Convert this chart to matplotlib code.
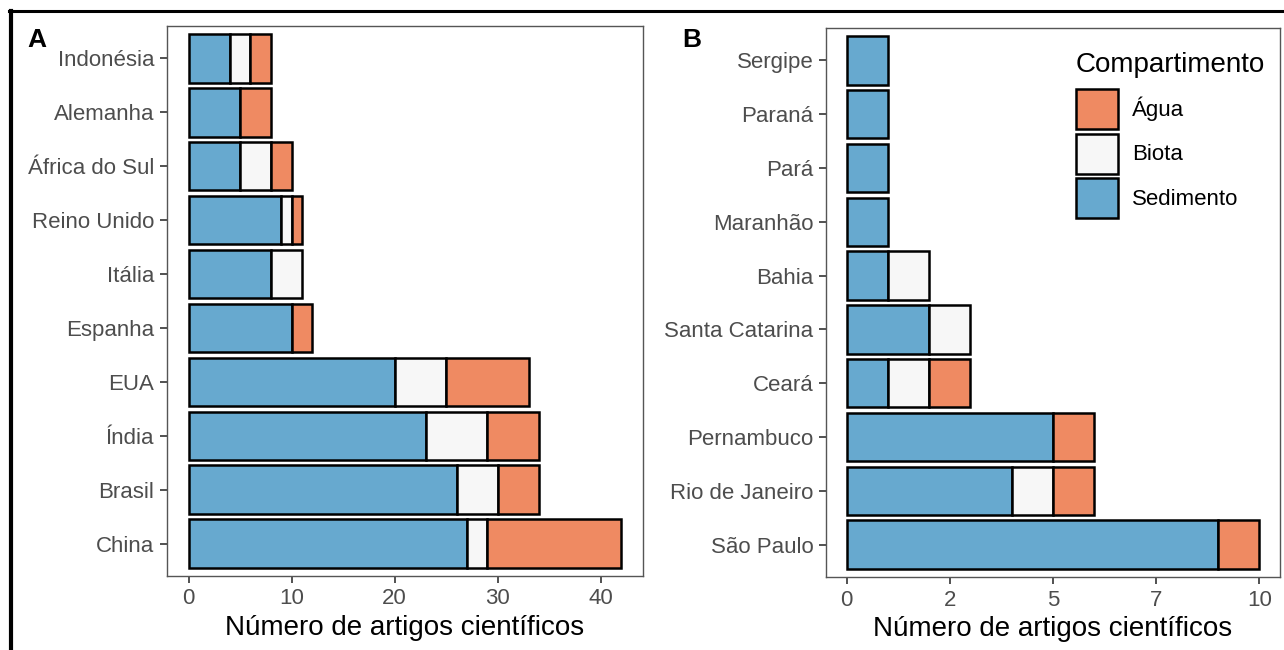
import matplotlib
matplotlib.use('Agg')
import matplotlib.pyplot as plt
from matplotlib.patches import Patch
from matplotlib.lines import Line2D

plt.rcParams['font.family'] = ['Liberation Sans', 'DejaVu Sans']

# painel A - paises
paises = ['Indonésia', 'Alemanha', 'África do Sul', 'Reino Unido', 'Itália',
          'Espanha', 'EUA', 'Índia', 'Brasil', 'China']
sed_a = [4, 5, 5, 9, 8, 10, 20, 23, 26, 27]
bio_a = [2, 0, 3, 1, 3, 0, 5, 6, 4, 2]
agua_a = [2, 3, 2, 1, 0, 2, 8, 5, 4, 13]

# painel B - estados
estados = ['Sergipe', 'Paraná', 'Pará', 'Maranhão', 'Bahia', 'Santa Catarina',
           'Ceará', 'Pernambuco', 'Rio de Janeiro', 'São Paulo']
sed_b = [1, 1, 1, 1, 1, 2, 1, 5, 4, 9]
bio_b = [0, 0, 0, 0, 1, 1, 1, 0, 1, 0]
agua_b = [0, 0, 0, 0, 0, 0, 1, 1, 1, 1]

xticks_b = [0, 2.5, 5, 7.5, 10]
xticklabels_b = ['0', '2', '5', '7', '10']

c_sed = '#67A9CF'
c_bio = '#F7F7F7'
c_agua = '#EF8A62'
tick_col = '#4D4D4D'

W, H = 1284, 650
fig = plt.figure(figsize=(W / 100, H / 100), dpi=100)


def stacked(ax, cats, sed, bio, agua):
    left = [0] * len(cats)
    for vals, col in ((sed, c_sed), (bio, c_bio), (agua, c_agua)):
        for i, v in enumerate(vals):
            if v > 0:
                ax.barh(i, v, left=left[i], height=0.9, color=col,
                        edgecolor='black', linewidth=1.8, zorder=3)
            left[i] += v
    ax.set_yticks(range(len(cats)))
    ax.set_yticklabels(cats)
    ax.set_ylim(len(cats) - 0.4, -0.6)
    ax.tick_params(axis='both', labelsize=16, labelcolor=tick_col,
                   color='#333333', length=5, width=1.2, pad=4)
    for s in ax.spines.values():
        s.set_color('#555555')
        s.set_linewidth(1.0)
    ax.set_xlabel('Número de artigos científicos', fontsize=20, labelpad=4)


axA = fig.add_axes([167 / W, 1 - 576 / H, (643 - 167) / W, (576 - 26) / H])
stacked(axA, paises, sed_a, bio_a, agua_a)
axA.set_xlim(-2.1, 44.1)
axA.set_xticks([0, 10, 20, 30, 40])

axB = fig.add_axes([826 / W, 1 - 577 / H, (1280 - 826) / W, (577 - 28) / H])
stacked(axB, estados, sed_b, bio_b, agua_b)
axB.set_xlim(-0.5, 10.5)
axB.set_xticks(xticks_b)
axB.set_xticklabels(xticklabels_b)

handles = [Patch(facecolor=c_agua, edgecolor='black', linewidth=1.8, label='Água'),
           Patch(facecolor=c_bio, edgecolor='black', linewidth=1.8, label='Biota'),
           Patch(facecolor=c_sed, edgecolor='black', linewidth=1.8, label='Sedimento')]
leg = fig.legend(handles=handles, title='Compartimento', loc='upper left',
                 bbox_to_anchor=(1065 / W, 1 - 41 / H), frameon=False,
                 fontsize=16, title_fontsize=20, handlelength=1.9,
                 handleheight=2.39, labelspacing=0.2, handletextpad=0.63,
                 borderpad=0, alignment='left')
leg._legend_box.sep = 8

fig.text(27 / W, 1 - 28 / H, 'A', fontsize=19, fontweight='bold', va='top')
fig.text(682 / W, 1 - 28 / H, 'B', fontsize=19, fontweight='bold', va='top')

# moldura preta
fig.add_artist(Line2D([11 / W, 11 / W], [0, 1 - 11 / H], color='black', lw=3,
                      transform=fig.transFigure))
fig.add_artist(Line2D([9 / W, 1], [1 - 11 / H, 1 - 11 / H], color='black', lw=2.2,
                      transform=fig.transFigure))

fig.savefig('out.png', dpi=100)
